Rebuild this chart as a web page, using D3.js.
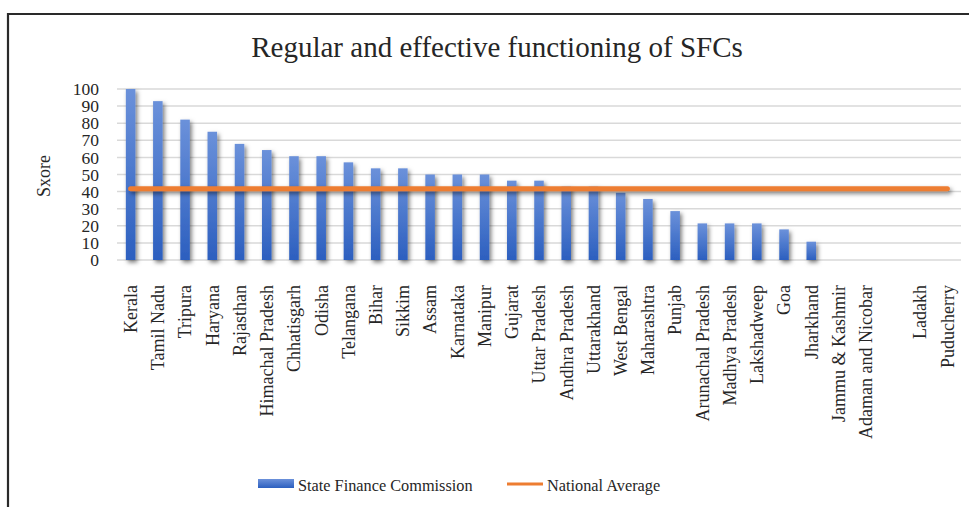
<!DOCTYPE html>
<html>
<head>
<meta charset="utf-8">
<script src="https://cdn.jsdelivr.net/npm/d3@7"></script>
<style>
  body { margin: 0; background: #fff; }
  text { font-family: "Liberation Serif", "Times New Roman", serif; fill: #262626; }
</style>
</head>
<body>
<div id="chart"></div>
<script>
// chart data
var states = ["Kerala", "Tamil Nadu", "Tripura", "Haryana", "Rajasthan", "Himachal Pradesh",
  "Chhatisgarh", "Odisha", "Telangana", "Bihar", "Sikkim", "Assam", "Karnataka", "Manipur",
  "Gujarat", "Uttar Pradesh", "Andhra Pradesh", "Uttarakhand", "West Bengal", "Maharashtra",
  "Punjab", "Arunachal Pradesh", "Madhya Pradesh", "Lakshadweep", "Goa", "Jharkhand",
  "Jammu & Kashmir", "Adaman and Nicobar", "", "Ladakh", "Puducherry"];
var sfcScores = [100, 92.9, 82.1, 75, 67.9, 64.3, 60.7, 60.7, 57.1, 53.6, 53.6, 50, 50, 50,
  46.4, 46.4, 42.9, 42.9, 39.3, 35.7, 28.6, 21.4, 21.4, 21.4, 17.9, 10.7, 0, 0, null, 0, 0];
var nationalAverage = 41.7;
var yTicks = [0, 10, 20, 30, 40, 50, 60, 70, 80, 90, 100];

var width = 969, height = 507;
var plot = { left: 117, right: 961, top: 89, bottom: 260 };

var svg = d3.select("#chart").append("svg")
  .attr("width", width)
  .attr("height", height);

var defs = svg.append("defs");

var grad = defs.append("linearGradient")
  .attr("id", "barGrad")
  .attr("x1", 0).attr("y1", 0).attr("x2", 0).attr("y2", 1);
grad.append("stop").attr("offset", "0%").attr("stop-color", "#6b91da");
grad.append("stop").attr("offset", "100%").attr("stop-color", "#2c5fbf");

// drop shadow, in user space so the flat line keeps it too
var shadow = defs.append("filter")
  .attr("id", "shadow")
  .attr("filterUnits", "userSpaceOnUse")
  .attr("x", 0).attr("y", 0).attr("width", width).attr("height", height);
shadow.append("feDropShadow")
  .attr("dx", 2).attr("dy", 2.5)
  .attr("stdDeviation", 2)
  .attr("flood-color", "#000")
  .attr("flood-opacity", 0.5);

// frame (only left and top edges are visible in the picture)
svg.append("path")
  .attr("d", "M8," + height + "V14H" + width)
  .attr("fill", "none")
  .attr("stroke", "#2a2a2a")
  .attr("stroke-width", 2.2);

// title
svg.append("text")
  .attr("x", 497)
  .attr("y", 57)
  .attr("text-anchor", "middle")
  .style("font-size", "29px")
  .text("Regular and effective functioning of SFCs");

// scales
var x = d3.scaleBand()
  .domain(states)
  .range([plot.left, plot.right])
  .paddingInner(0.65)
  .paddingOuter(0.325);

var y = d3.scaleLinear()
  .domain([0, 100])
  .range([plot.bottom, plot.top]);

// gridlines
svg.append("g")
  .selectAll("line")
  .data(yTicks)
  .enter().append("line")
  .attr("x1", plot.left)
  .attr("x2", plot.right)
  .attr("y1", function(d) { return y(d); })
  .attr("y2", function(d) { return y(d); })
  .attr("stroke", "#d9d9d9")
  .attr("stroke-width", 1.5);

// y axis labels
var yAxis = d3.axisLeft(y)
  .tickValues(yTicks)
  .tickSize(0)
  .tickPadding(0);

var yG = svg.append("g")
  .attr("transform", "translate(99,0)")
  .call(yAxis);
yG.select(".domain").remove();
yG.selectAll("text")
  .attr("dy", "0.32em")
  .style("font-size", "17.5px")
  .style("font-family", "Liberation Serif, Times New Roman, serif")
  .attr("fill", "#262626");

svg.append("text")
  .attr("transform", "translate(50,176) rotate(-90)")
  .attr("text-anchor", "middle")
  .style("font-size", "18px")
  .text("Sxore");

// bars
svg.append("g")
  .attr("filter", "url(#shadow)")
  .selectAll("rect")
  .data(sfcScores.map(function(v, i) { return { name: states[i], value: v }; })
    .filter(function(d) { return d.value; }))
  .enter().append("rect")
  .attr("x", function(d) { return x(d.name); })
  .attr("y", function(d) { return y(d.value); })
  .attr("width", x.bandwidth())
  .attr("height", function(d) { return y(0) - y(d.value); })
  .attr("fill", "url(#barGrad)");

// national average line
var centers = states.map(function(s) { return x(s) + x.bandwidth() / 2; });
svg.append("path")
  .attr("d", d3.line()(centers.map(function(c) { return [c, y(nationalAverage)]; })))
  .attr("fill", "none")
  .attr("stroke", "#ed7d31")
  .attr("stroke-width", 5)
  .attr("stroke-linecap", "round")
  .attr("filter", "url(#shadow)");

// x axis labels
var xAxis = d3.axisBottom(x).tickSize(0).tickPadding(0);
var xG = svg.append("g")
  .attr("transform", "translate(0,285)")
  .call(xAxis);
xG.select(".domain").remove();
xG.selectAll("text")
  .attr("transform", "rotate(-90)")
  .attr("text-anchor", "end")
  .attr("x", 0)
  .attr("y", 0)
  .attr("dy", "0.35em")
  .style("font-size", "18px")
  .style("font-family", "Liberation Serif, Times New Roman, serif")
  .attr("fill", "#262626");

// legend
var legend = svg.append("g");
legend.append("rect")
  .attr("x", 258).attr("y", 479)
  .attr("width", 36).attr("height", 9)
  .attr("fill", "url(#barGrad)");
legend.append("text")
  .attr("x", 298).attr("y", 491)
  .style("font-size", "16.3px")
  .text("State Finance Commission");
legend.append("line")
  .attr("x1", 507).attr("x2", 543)
  .attr("y1", 484).attr("y2", 484)
  .attr("stroke", "#ed7d31")
  .attr("stroke-width", 3);
legend.append("text")
  .attr("x", 547).attr("y", 491)
  .style("font-size", "16.3px")
  .text("National Average");
</script>
</body>
</html>
